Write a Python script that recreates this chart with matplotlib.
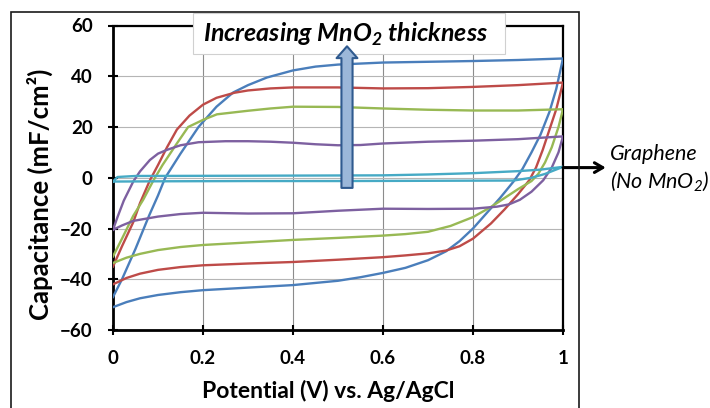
import matplotlib
matplotlib.use("Agg")
import matplotlib.pyplot as plt
from matplotlib.patches import Rectangle, FancyArrowPatch, ArrowStyle

plt.rcParams['font.family'] = ['Lato', 'DejaVu Sans']
plt.rcParams['mathtext.fontset'] = 'custom'
plt.rcParams['mathtext.rm'] = 'Lato:italic'
plt.rcParams['mathtext.bf'] = 'Lato:bold:italic'

# CV loops, anodic sweep (0 -> 1) then cathodic sweep (1 -> 0)
blue_x = [0, 0.02, 0.05, 0.08, 0.1, 0.116, 0.15, 0.19, 0.23, 0.267, 0.3, 0.342, 0.4, 0.45, 0.5, 0.6, 0.7, 0.8, 0.9, 1.0,
          0.985, 0.97, 0.95, 0.93, 0.91, 0.89, 0.86, 0.83, 0.8, 0.77, 0.74, 0.7, 0.65, 0.6, 0.55, 0.5, 0.4, 0.3, 0.2,
          0.15, 0.1, 0.06, 0.03, 0]
blue_y = [-47, -40, -28, -15, -7, 0, 9.5, 20, 28, 33.6, 36.5, 39.5, 42.3, 43.8, 44.6, 45.4, 45.7, 46, 46.4, 47,
          35, 26, 17, 10, 3.5, -1.5, -8, -14, -20, -25, -29, -32.5, -35.5, -37.5, -39.2, -40.6, -42.3, -43.3, -44.3,
          -45.1, -46.2, -47.5, -49, -51]

red_x = [0, 0.02, 0.045, 0.06, 0.082, 0.1, 0.12, 0.142, 0.17, 0.2, 0.23, 0.27, 0.3, 0.35, 0.4, 0.5, 0.6, 0.7, 0.8, 0.9, 1.0,
         0.985, 0.97, 0.955, 0.94, 0.925, 0.9, 0.87, 0.84, 0.8, 0.77, 0.74, 0.7, 0.65, 0.6, 0.5, 0.4, 0.3, 0.2,
         0.15, 0.1, 0.06, 0.03, 0]
red_y = [-35, -27, -17.5, -10, -1, 5, 12, 19, 24.5, 28.8, 31.5, 33.5, 34.4, 35.2, 35.6, 35.6, 35.2, 35.3, 35.8, 36.5, 37.5,
         27, 19, 11, 4, -1, -6.5, -12.5, -18, -24, -27, -28.7, -29.8, -30.6, -31.3, -32.3, -33.2, -33.8, -34.5,
         -35.2, -36.3, -37.8, -39.5, -42]

green_x = [0, 0.02, 0.045, 0.067, 0.09, 0.11, 0.14, 0.167, 0.2, 0.231, 0.3, 0.35, 0.4, 0.5, 0.6, 0.7, 0.8, 0.9, 1.0,
           0.99, 0.975, 0.96, 0.945, 0.93, 0.9, 0.87, 0.84, 0.8, 0.75, 0.7, 0.65, 0.6, 0.5, 0.4, 0.3, 0.2,
           0.15, 0.1, 0.06, 0.03, 0]
green_y = [-31, -24, -15, -8.7, -1, 5, 13, 20, 22.8, 25, 26.4, 27.3, 28, 27.9, 27.3, 26.8, 26.5, 26.5, 27,
           20, 12, 6, 1.5, -1.3, -4.5, -8, -11.5, -15.5, -19, -21.3, -22.2, -22.8, -23.7, -24.5, -25.5, -26.5,
           -27.3, -28.5, -30, -31.5, -33.6]

purple_x = [0, 0.01, 0.024, 0.045, 0.06, 0.082, 0.1, 0.12, 0.15, 0.19, 0.25, 0.3, 0.35, 0.4, 0.45, 0.5, 0.55, 0.6, 0.7,
            0.8, 0.9, 1.0,
            0.99, 0.975, 0.956, 0.93, 0.904, 0.88, 0.853, 0.8, 0.7, 0.6, 0.5, 0.4, 0.3, 0.2, 0.15, 0.1, 0.045, 0.02, 0]
purple_y = [-20.5, -15.5, -9, -1.5, 2.5, 7, 9.5, 11, 12.8, 14, 14.4, 14.4, 14.2, 13.8, 13.2, 12.8, 12.9, 13.5, 14.2,
            14.6, 15.2, 16.3,
            10, 4, -1, -5.5, -8.7, -10.5, -11.4, -12.2, -12.3, -12.2, -13, -14, -14.1, -13.8, -14.3, -15.3, -17, -18.8,
            -20.5]

cyan_x = [0, 0.01, 0.05, 0.3, 0.5, 0.6, 0.7, 0.8, 0.9, 0.95, 1.0,
          0.96, 0.93, 0.89, 0.7, 0.5, 0.3, 0.1, 0]
cyan_y = [-1.5, 0.3, 0.7, 0.8, 0.9, 0.95, 1.3, 1.8, 2.6, 3.2, 4.3,
          1.5, 0, -1.1, -1.2, -1.3, -1.3, -1.4, -1.5]

series = [(blue_x, blue_y, '#4A7EBB'), (red_x, red_y, '#BE4B48'), (green_x, green_y, '#98B954'),
          (purple_x, purple_y, '#7D60A0'), (cyan_x, cyan_y, '#46AAC5')]

x_ticks = [0, 0.2, 0.4, 0.6, 0.8, 1]
x_tick_labels = ['0', '0.2', '0.4', '0.6', '0.8', '1']
y_ticks = [-60, -40, -20, 0, 20, 40, 60]

fig = plt.figure(figsize=(7.1, 4.08), dpi=100)
W, H = 710, 408
ax = fig.add_axes([113 / W, 1 - 330 / H, 450 / W, 304.5 / H])

for xs, ys, c in series:
    ax.plot(xs, ys, color=c, lw=1.7, solid_joinstyle='round', zorder=3)

ax.set_xlim(0, 1)
ax.set_ylim(-60, 60)
ax.set_xticks(x_ticks)
ax.set_xticklabels(x_tick_labels)
ax.set_yticks(y_ticks)
ax.tick_params(direction='inout', length=7, width=1.5, labelsize=13.5, pad=11)
for lab in ax.get_xticklabels() + ax.get_yticklabels():
    lab.set_fontweight('bold')
ax.xaxis.grid(True, color='#8c8c8c', lw=0.8)
ax.yaxis.grid(True, color='#b5b5b5', lw=0.8)
ax.set_axisbelow(True)
for s in ax.spines.values():
    s.set_linewidth(1.6)
    s.set_color('black')
ax.spines['left'].set_linewidth(2)
ax.spines['bottom'].set_linewidth(2)

fig.text(40 / W, 1 - 194 / H, 'Capacitance (mF/cm²)', rotation=90, ha='center', va='center',
         fontsize=18.5, fontweight='bold')
fig.text(328 / W, 1 - 391 / H, 'Potential (V) vs. Ag/AgCl', ha='center', va='center',
         fontsize=16.5, fontweight='bold')

# outer chart frame
fig.add_artist(Rectangle((11 / W, -0.02), 568 / W, 1 - 12 / H + 0.02, transform=fig.transFigure,
                         fill=False, ec='#1a1a1a', lw=1.2))

# annotation box and arrow
ax.add_patch(Rectangle((193 / W, 1 - 54 / H), 312 / W, 41 / H, transform=fig.transFigure,
                       fc='white', ec='#d0d0d0', lw=0.8, clip_on=False, zorder=10))
ax.text(346 / W, 1 - 34 / H, r'Increasing MnO$_\mathbf{2}$ thickness', transform=fig.transFigure,
        ha='center', va='center', fontsize=18, fontweight='bold', style='italic', zorder=11)
arrow = FancyArrowPatch((0.52, -4), (0.52, 51.8),
                        arrowstyle=ArrowStyle.Simple(head_length=8.5, head_width=15, tail_width=8),
                        mutation_scale=1, fc='#9BB7D9', ec='#2F5A8F', lw=1.5, shrinkA=0, shrinkB=0,
                        clip_on=False, zorder=12)
ax.add_patch(arrow)

ax.annotate('', xy=(1.095, 4), xytext=(1.0, 4), annotation_clip=False,
            arrowprops=dict(arrowstyle='->,head_length=0.6,head_width=0.35', color='black', lw=2.2,
                            shrinkA=0, shrinkB=0))
ax.text(1.105, 9.5, 'Graphene', ha='left', va='center', fontsize=15.5, style='italic', clip_on=False)
ax.text(1.105, -1.5, r'(No MnO$_2$)', ha='left', va='center', fontsize=15.5, style='italic', clip_on=False)

fig.savefig('out.png', dpi=100)
